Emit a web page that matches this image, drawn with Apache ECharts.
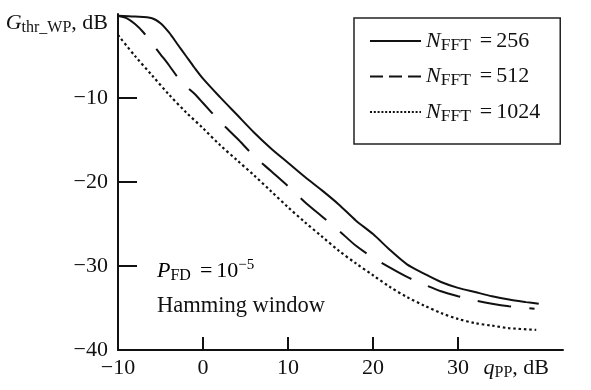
<!DOCTYPE html>
<html>
<head>
<meta charset="utf-8">
<script src="https://cdn.jsdelivr.net/npm/echarts@6/dist/echarts.min.js"></script>
<style>
  html, body { margin: 0; padding: 0; background: #fff; }
  #chart { width: 591px; height: 390px; }
</style>
</head>
<body>
<div id="chart"></div>
<script>
// values: q_PP (dB) and threshold G_thr_WP (dB)
const q256 = [-10, -8, -6, -5, -4, -3, -2, -1, 0, 2, 4, 6, 8, 10, 12, 14, 16, 18, 20, 22, 24, 26, 28, 30, 32, 34, 36, 38, 39.5];
const g256 = [-0.2, -0.3, -0.5, -1.1, -2.2, -3.6, -5.0, -6.4, -7.7, -9.9, -12.0, -14.1, -16.0, -17.7, -19.4, -21.0, -22.7, -24.6, -26.2, -28.1, -29.8, -30.9, -31.9, -32.6, -33.1, -33.6, -34.0, -34.3, -34.5];

const q512 = [-10, -9, -8, -7, -6, -5, -4, -3, -2, -1, 0, 2, 4, 6, 8, 10, 12, 14, 16, 18, 20, 22, 24, 26, 28, 30, 32, 34, 36, 39];
const g512 = [-0.2, -0.5, -1.2, -2.2, -3.5, -4.8, -6.1, -7.5, -8.6, -9.5, -10.6, -12.8, -14.8, -16.9, -18.7, -20.5, -22.4, -24.1, -25.8, -27.6, -29.0, -30.2, -31.3, -32.2, -33.0, -33.6, -34.1, -34.5, -34.8, -35.1];

const q1024 = [-10, -8, -6, -4, -2, 0, 2, 4, 6, 8, 10, 12, 14, 16, 18, 20, 22, 24, 26, 28, 30, 32, 34, 36, 39.2];
const g1024 = [-2.5, -5.0, -7.3, -9.6, -11.7, -13.6, -15.6, -17.4, -19.2, -21.1, -23.0, -24.8, -26.5, -28.2, -29.7, -31.1, -32.5, -33.7, -34.7, -35.6, -36.3, -36.8, -37.1, -37.4, -37.6];

const names = ['256', '512', '1024'];
const xTicks = [-10, 0, 10, 20, 30];
const yTicks = [-40, -30, -20, -10];

const serif = '"Liberation Serif", "DejaVu Serif", serif';
const minus = v => String(v).replace('-', '\u2212');
const zip = (xs, ys) => xs.map((x, i) => [x, ys[i]]);

const rich = {
  i: { fontFamily: serif, fontSize: 22, fontStyle: 'italic', color: '#111', lineHeight: 26, verticalAlign: 'middle' },
  s: { fontFamily: serif, fontSize: 16, color: '#111', lineHeight: 15, verticalAlign: 'bottom' },
  f: { fontFamily: serif, fontSize: 17.5, color: '#111', lineHeight: 15, verticalAlign: 'bottom' },
  e: { fontFamily: serif, fontSize: 22, color: '#111', lineHeight: 26, verticalAlign: 'middle', padding: [0, 4, 0, 9] },
  t: { fontFamily: serif, fontSize: 22, color: '#111', lineHeight: 26, verticalAlign: 'middle' },
  p: { fontFamily: serif, fontSize: 15, color: '#111', lineHeight: 14, verticalAlign: 'top' }
};

var myChart = echarts.init(document.getElementById('chart'));
myChart.setOption({
  backgroundColor: '#fff',
  animation: false,
  color: ['#111', '#111', '#111'],
  grid: { left: 118, right: 28, top: 14, bottom: 40 },
  xAxis: {
    type: 'value', min: -10, max: 42.35, interval: 10,
    name: '{i|q}{s|PP}{t|, dB}',
    nameLocation: 'end', nameGap: -14,
    nameTextStyle: { align: 'right', verticalAlign: 'top', padding: [5, 0, 0, 0], rich: rich },
    splitLine: { show: false },
    axisLine: { onZero: false, lineStyle: { color: '#111', width: 2 } },
    axisTick: { inside: true, length: 13, lineStyle: { color: '#111', width: 2 }, customValues: xTicks },
    axisLabel: { color: '#111', fontFamily: serif, fontSize: 22, margin: 7, customValues: xTicks, formatter: minus }
  },
  yAxis: {
    type: 'value', min: -40, max: 0, interval: 10,
    name: '{i|G}{s|thr_WP}{t|, dB}',
    nameLocation: 'end', nameGap: -9,
    nameTextStyle: { align: 'right', verticalAlign: 'middle', padding: [0, 10, 0, 0], rich: rich },
    splitLine: { show: false },
    axisLine: { onZero: false, lineStyle: { color: '#111', width: 2 } },
    axisTick: { inside: true, length: 19, lineStyle: { color: '#111', width: 2 }, customValues: yTicks },
    axisLabel: { color: '#111', fontFamily: serif, fontSize: 22, margin: 10, customValues: yTicks, formatter: minus }
  },
  legend: {
    orient: 'vertical', left: 354, top: 18,
    padding: [12, 20, 19, 15],
    itemGap: 11.5, itemWidth: 51, itemHeight: 14,
    borderColor: '#222', borderWidth: 1.5,
    itemStyle: { opacity: 0 },
    data: [
      { name: names[0], lineStyle: { type: 'solid' } },
      { name: names[1], lineStyle: { type: [13, 6] } },
      { name: names[2], lineStyle: { type: [2, 1.8] } }
    ],
    formatter: n => '{i|N}{f|FFT}{e|=}{t|' + n + '}',
    textStyle: { rich: rich }
  },
  graphic: [
    {
      type: 'text', left: 157, top: 258,
      style: { text: '{i|P}{s|FD}{e|=}{t|10}{p|\u22125}', rich: rich }
    },
    {
      type: 'text', left: 157, top: 295,
      style: { text: 'Hamming window', fontFamily: serif, fontSize: 22.5, fill: '#111' }
    }
  ],
  series: [
    {
      name: names[0], type: 'line', symbol: 'none', smooth: 0.3,
      lineStyle: { color: '#111', width: 2 },
      data: zip(q256, g256)
    },
    {
      name: names[1], type: 'line', symbol: 'none', smooth: 0.3,
      lineStyle: { color: '#111', width: 2, type: [34, 18] },
      data: zip(q512, g512)
    },
    {
      name: names[2], type: 'line', symbol: 'none', smooth: 0.3,
      lineStyle: { color: '#111', width: 2.2, type: [2.5, 2.8] },
      data: zip(q1024, g1024)
    }
  ]
});
</script>
</body>
</html>
